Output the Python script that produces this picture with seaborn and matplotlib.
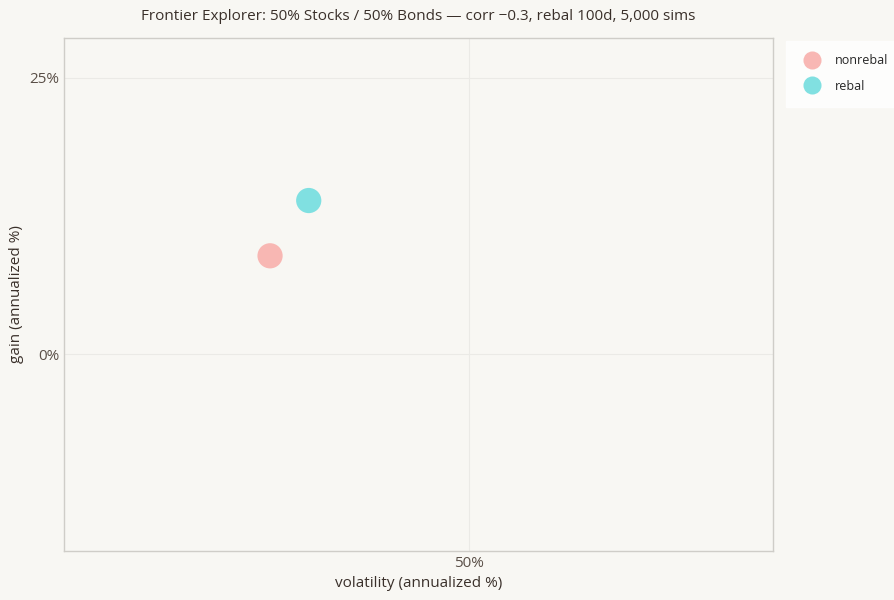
import matplotlib
matplotlib.use("Agg")
import matplotlib.pyplot as plt
import seaborn as sns
import pandas as pd
from matplotlib.ticker import FuncFormatter

series = ["nonrebal", "rebal"]
volatility = [27.9, 32.2]
gain = [8.9, 13.9]
colors = ["#f8b4b0", "#7adfe0"]

sns.set_theme(style="white")
plt.rcParams['font.family'] = ['Open Sans', 'DejaVu Sans']
bg = "#f8f7f3"
fig = plt.figure(figsize=(8.94, 6.0), dpi=100, facecolor=bg)
ax = fig.add_axes([64/894, 1-551/600, (773-64)/894, (551-38)/600])
ax.set_facecolor(bg)
df = pd.DataFrame({"volatility": volatility, "gain": gain, "series": series})
sns.scatterplot(data=df, x="volatility", y="gain", hue="series", palette=colors,
                s=330, alpha=0.95, edgecolor="none", ax=ax, zorder=3)
ax.set_xlim(5.0, 83.8)
ax.set_ylim(-17.8, 28.6)
ax.set_xticks([50]); ax.set_yticks([0, 25])
ax.xaxis.set_major_formatter(FuncFormatter(lambda v, p: f"{v:.0f}%"))
ax.yaxis.set_major_formatter(FuncFormatter(lambda v, p: f"{v:.0f}%"))
ax.grid(True, color="#ebeae6", linewidth=0.8)
for s in ax.spines.values():
    s.set_color("#cfcdc8"); s.set_linewidth(1)
ax.tick_params(colors="#5a4f47", labelsize=11, length=0)
ax.set_xlabel("volatility (annualized %)", fontsize=11, color="#3a302a", labelpad=4)
ax.set_ylabel("gain (annualized %)", fontsize=11, color="#3a302a")
fig.suptitle("Frontier Explorer: 50% Stocks / 50% Bonds — corr −0.3, rebal 100d, 5,000 sims",
             x=418/894, y=0.985, fontsize=11, color="#3a302a")
leg = ax.legend(loc="upper left", bbox_to_anchor=(1.015, 1.0), frameon=True,
                fontsize=9, markerscale=1.0, borderpad=0.8, labelspacing=1.0)
leg.get_frame().set_facecolor("white"); leg.get_frame().set_edgecolor("white")
leg.get_frame().set_boxstyle("square")
for h in leg.legend_handles:
    if hasattr(h, "set_markersize"):
        h.set_markersize(13)
    elif hasattr(h, "set_sizes"):
        h.set_sizes([180])
fig.savefig("out.png", dpi=100, facecolor=bg)
